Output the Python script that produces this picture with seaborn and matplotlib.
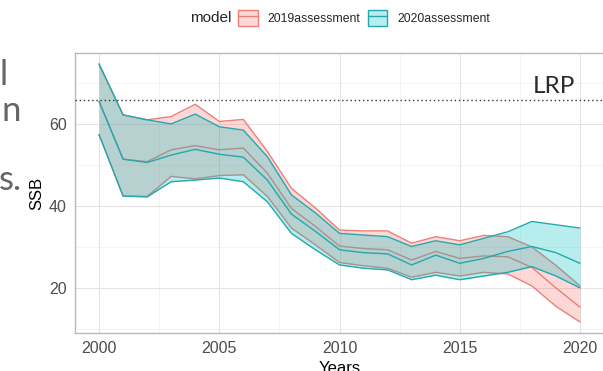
import matplotlib
matplotlib.use("Agg")
import matplotlib.pyplot as plt
import pandas as pd
import seaborn as sns
from matplotlib.colors import to_rgba
from matplotlib.lines import Line2D
from matplotlib.patches import Patch
from matplotlib.legend_handler import HandlerTuple
from matplotlib.ticker import MultipleLocator

# ---- data -------------------------------------------------------------
years = list(range(2000, 2021))
models = ["2019assessment", "2020assessment"]

ssb_2019_lower = [57.4, 42.4, 42.3, 47.2, 46.6, 47.4, 47.6, 42.3, 34.6, 30.5, 26.2,
                  25.4, 24.8, 22.6, 23.8, 22.9, 23.8, 23.4, 20.5, 15.5, 11.7]
ssb_2019_median = [65.5, 51.4, 50.8, 53.7, 54.7, 53.7, 54.1, 48.0, 39.4, 35.0, 30.2,
                   29.6, 29.3, 26.8, 28.9, 27.2, 27.8, 27.6, 25.0, 20.0, 15.3]
ssb_2019_upper = [74.5, 62.2, 61.0, 61.8, 64.8, 60.6, 61.1, 53.3, 44.3, 39.5, 34.1,
                  33.9, 33.9, 30.9, 32.5, 31.5, 32.8, 32.5, 30.0, 25.5, 20.5]

ssb_2020_lower = [57.4, 42.4, 42.2, 45.9, 46.3, 46.8, 45.9, 41.0, 33.3, 29.3, 25.6,
                  24.8, 24.4, 22.0, 23.1, 22.0, 22.9, 23.8, 25.2, 22.9, 20.0]
ssb_2020_median = [65.5, 51.4, 50.6, 52.4, 53.8, 52.6, 51.9, 46.3, 38.0, 33.8, 29.3,
                   28.6, 28.3, 25.6, 28.0, 26.0, 27.2, 28.9, 30.1, 28.6, 26.0]
ssb_2020_upper = [74.7, 62.2, 61.0, 60.0, 62.4, 59.3, 58.5, 52.0, 42.7, 38.3, 33.3,
                  32.9, 32.5, 30.1, 31.5, 30.5, 32.1, 33.7, 36.2, 35.4, 34.6]

lrp = 65.9
year_ticks = [2000, 2005, 2010, 2015, 2020]
ssb_ticks = [20, 40, 60]

fill_colors = {"2019assessment": "#F8766D", "2020assessment": "#00BFC4"}
line_colors = {"2019assessment": "#E9817A", "2020assessment": "#22A9AD"}

series = {
    "2019assessment": (ssb_2019_lower, ssb_2019_median, ssb_2019_upper),
    "2020assessment": (ssb_2020_lower, ssb_2020_median, ssb_2020_upper),
}
rows = []
for model in models:
    lo, med, hi = series[model]
    for yr, a, b, c in zip(years, lo, med, hi):
        rows.append({"model": model, "Years": yr, "lower": a, "SSB": b, "upper": c})
df = pd.DataFrame(rows)

# ---- figure -----------------------------------------------------------
sns.set_theme(style="white")
plt.rcParams["font.family"] = ["Liberation Sans", "DejaVu Sans"]

W, H = 603, 371
fig = plt.figure(figsize=(W / 100, H / 100), dpi=100)
ax = fig.add_axes([75 / W, 1 - 333 / H, (604 - 75) / W, (333 - 53) / H])

for i, model in enumerate(models):
    sub = df[df["model"] == model]
    z = 2 + 2 * i
    ax.fill_between(sub["Years"], sub["lower"], sub["upper"],
                    color=fill_colors[model], alpha=0.28, lw=0, zorder=z)
    for col in ["lower", "SSB", "upper"]:
        sns.lineplot(data=sub, x="Years", y=col, color=line_colors[model],
                     lw=1.0, estimator=None, legend=False, ax=ax, zorder=z + 1)

ax.axhline(lrp, ls=(0, (1, 2)), color="#333333", lw=1.0, zorder=7)
ax.text(2018.9, lrp + 0.6, "LRP", ha="center", va="bottom",
        fontsize=17.5, color="#2b2b2b", family=["Lato", "DejaVu Sans"], zorder=8)

ax.set_xlim(1999, 2021)
ax.set_ylim(9.0, 77.3)
ax.set_xticks(year_ticks)
ax.set_yticks(ssb_ticks)
ax.xaxis.set_minor_locator(MultipleLocator(2.5))
ax.yaxis.set_minor_locator(MultipleLocator(10))
ax.grid(which="major", color="#E2E2E2", lw=0.7, zorder=0)
ax.grid(which="minor", color="#EDEDED", lw=0.4, zorder=0)
ax.set_axisbelow(True)
for sp in ax.spines.values():
    sp.set_color("#B8B8B8")
    sp.set_linewidth(1.0)
ax.tick_params(which="major", length=2.8, width=0.7, color="#B3B3B3",
               labelsize=11.5, labelcolor="#4D4D4D", pad=3)
ax.tick_params(which="minor", length=0)
ax.set_xlabel("Years", fontsize=12, color="black", labelpad=3.5)
ax.set_ylabel("SSB", fontsize=12, color="black", labelpad=3.5)

# legend across the top
handles = [
    (Patch(facecolor=to_rgba(fill_colors[m], 0.28), edgecolor=line_colors[m], lw=1.0),
     Line2D([], [], color=line_colors[m], lw=1.0))
    for m in models
]
fig.text(190 / W, 1 - 18 / H, "model", ha="left", va="center", fontsize=11)
fig.legend(handles, models, loc="center", bbox_to_anchor=(364 / W, 1 - 18 / H),
           ncol=2, frameon=False, fontsize=8.8, handlelength=1.6, handleheight=1.6,
           handletextpad=0.8, columnspacing=0.6, borderaxespad=0, borderpad=0,
           handler_map={tuple: HandlerTuple(ndivide=1)})

# slide text running in from the left
side_font = dict(fontsize=25, color="#666666", family=["Lato", "DejaVu Sans"],
                 ha="left", va="baseline")
fig.text(0 / W, 1 - 85 / H, "l", **side_font)
fig.text(2 / W, 1 - 121 / H, "n", **side_font)
fig.text(-1 / W, 1 - 190 / H, "s.", **side_font)

fig.savefig("out.png", dpi=100)
